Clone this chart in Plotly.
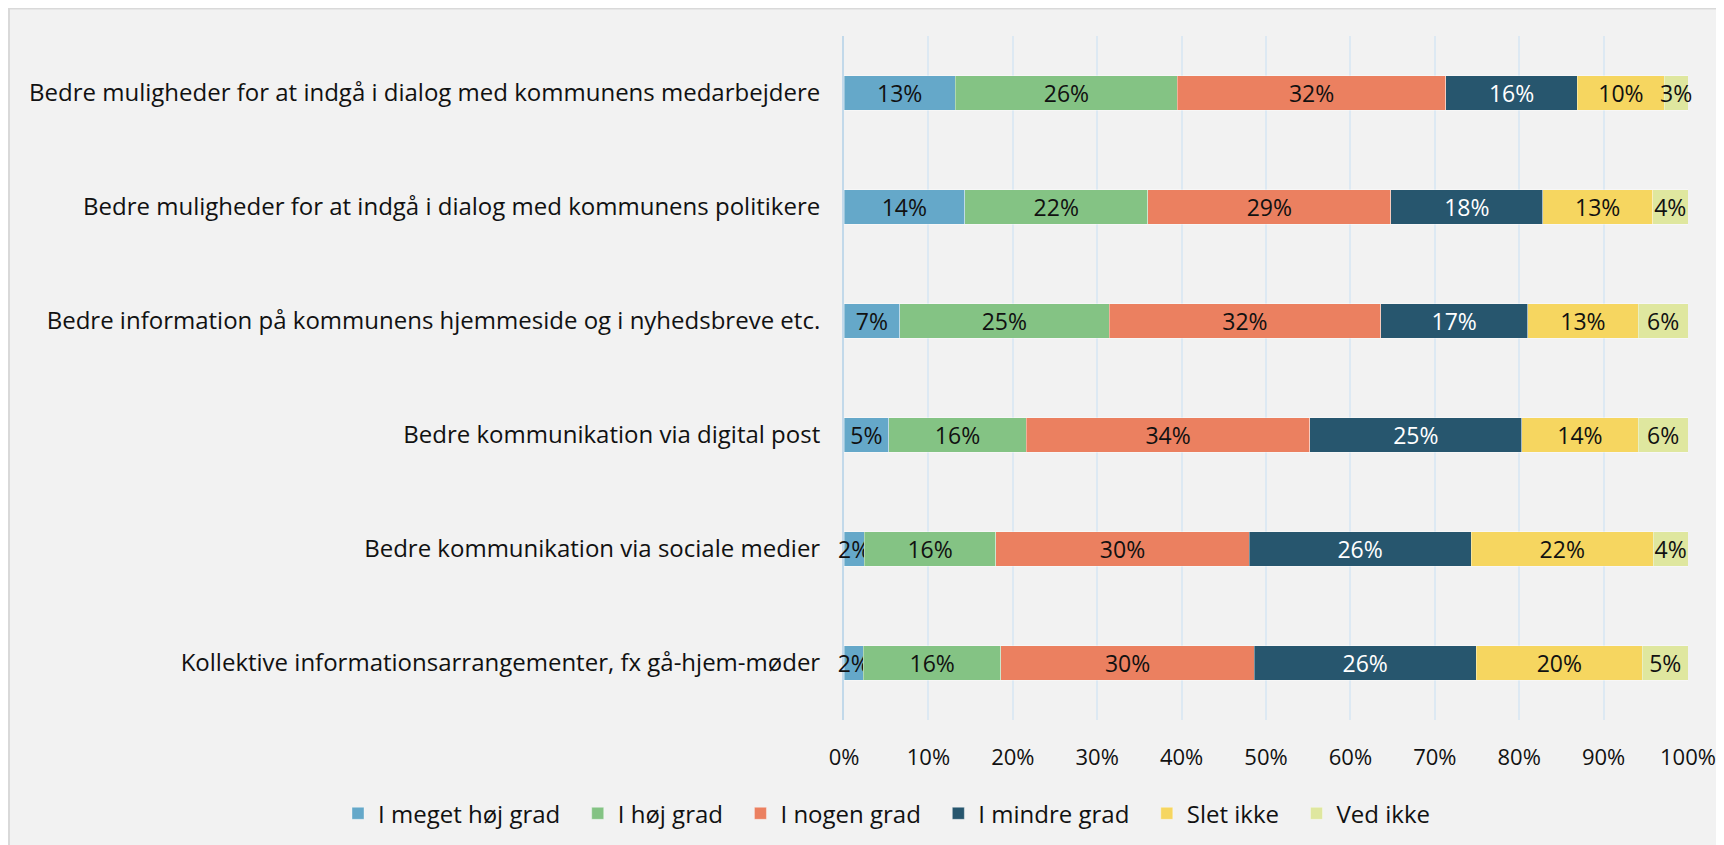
import plotly.graph_objects as go

# survey statements, top to bottom as drawn
categories = [
    "Bedre muligheder for at indgå i dialog med kommunens medarbejdere",
    "Bedre muligheder for at indgå i dialog med kommunens politikere",
    "Bedre information på kommunens hjemmeside og i nyhedsbreve etc.",
    "Bedre kommunikation via digital post",
    "Bedre kommunikation via sociale medier",
    "Kollektive informationsarrangementer, fx gå-hjem-møder",
]

series_names = ["I meget høj grad", "I høj grad", "I nogen grad",
                "I mindre grad", "Slet ikke", "Ved ikke"]

# shares per statement (fractions), same order as categories
meget_hoej = [0.132, 0.143, 0.066, 0.053, 0.024, 0.023]
hoej = [0.263, 0.217, 0.248, 0.163, 0.156, 0.163]
nogen = [0.318, 0.288, 0.322, 0.336, 0.300, 0.300]
mindre = [0.156, 0.180, 0.174, 0.251, 0.263, 0.263]
slet_ikke = [0.103, 0.130, 0.131, 0.138, 0.216, 0.197]
ved_ikke = [0.028, 0.042, 0.059, 0.059, 0.041, 0.054]

tick_vals = [i / 10 for i in range(11)]
tick_text = [f"{i * 10}%" for i in range(11)]

COLORS = ["#65a8c9", "#84c384", "#eb8060", "#27566e", "#f6d660", "#dfe79f"]
TEXT_COLORS = ["#111111", "#111111", "#111111", "#ffffff", "#111111", "#111111"]
FONT = "Open Sans, Noto Sans, sans-serif"

values = [meget_hoej, hoej, nogen, mindre, slet_ikke, ved_ikke]

# figure pixel geometry (page body adds an 8px offset)
L, T, R, B = 836, 28, 44, 133
PW = 1724 - L - R
PH = 845 - T - B

fig = go.Figure()
for name, vals, col, tcol in zip(series_names, values, COLORS, TEXT_COLORS):
    fig.add_trace(go.Bar(
        y=categories, x=vals, orientation="h",
        name=name + "\u00a0\u00a0",  # a little extra room between legend entries
        marker=dict(color=col, line=dict(color="rgba(255,255,255,0.45)", width=0.8)),
        texttemplate="%{x:.0%}", textposition="inside", insidetextanchor="middle",
        textangle=0, constraintext="none", cliponaxis=False,
        textfont=dict(size=23, color=tcol, family=FONT),
    ))

# grey panel with a thin border on top/left, like the original export
fig.add_shape(type="rect", xref="paper", yref="paper",
              x0=(1 - L) / PW, x1=(1740 - L) / PW,
              y0=-(870 - T - PH) / PH, y1=(PH + T - 0.5) / PH,
              fillcolor="#f2f2f2", line=dict(color="#d9d9d9", width=2),
              layer="below")

fig.update_layout(
    width=1724, height=845,
    barmode="stack", bargap=0.695,
    paper_bgcolor="#ffffff", plot_bgcolor="rgba(0,0,0,0)",
    margin=dict(l=L, r=R, t=T, b=B, autoexpand=False),
    font=dict(family=FONT, color="#111111"),
    # anchored left of the plot area so the legend may use the full width (one row)
    legend=dict(orientation="h", x=(330 - L) / PW, xanchor="left",
                y=-0.137, yanchor="middle", font=dict(size=24, family=FONT),
                bgcolor="rgba(0,0,0,0)", traceorder="normal",
                itemwidth=30, tracegroupgap=0),
    xaxis=dict(range=[0, 1], tickvals=tick_vals, ticktext=tick_text,
               showgrid=True, gridcolor="#dde9f3", gridwidth=1.5,
               zeroline=False, showline=False, automargin=False,
               tickfont=dict(size=22, color="#111111"), ticklabelstandoff=22),
    yaxis=dict(autorange="reversed", showgrid=False, zeroline=False,
               showline=True, linecolor="#c2d9ea", linewidth=2, automargin=False,
               layer="below traces",
               tickfont=dict(size=24, color="#111111"), ticklabelstandoff=17),
)

fig.write_html("out.html")
